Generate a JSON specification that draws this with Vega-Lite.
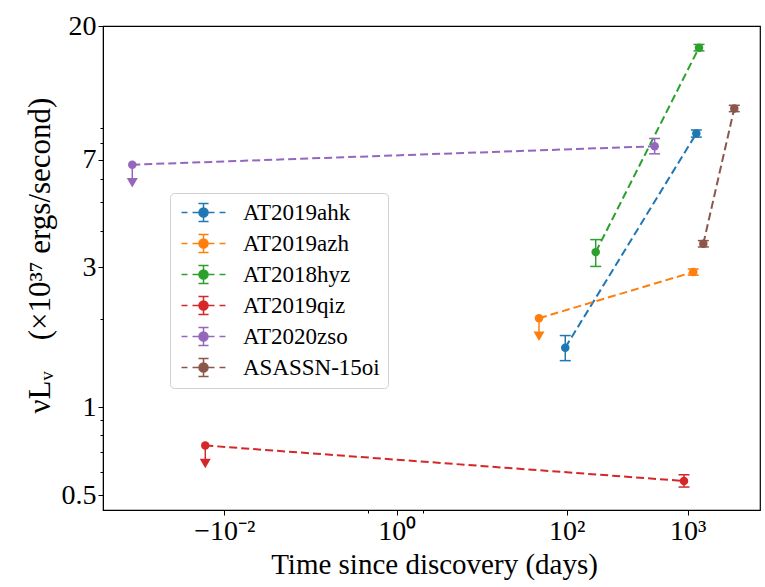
{
  "$schema": "https://vega.github.io/schema/vega-lite/v6.json",
  "width": 657,
  "height": 484,
  "autosize": {"type": "none"},
  "padding": {"left": 103, "top": 26, "right": 5, "bottom": 77},
  "background": "white",
  "config": {
    "view": {"stroke": "black", "strokeWidth": 1.2},
    "font": "Liberation Serif",
    "axis": {
      "grid": false,
      "domainColor": "black",
      "tickColor": "black",
      "labelColor": "black",
      "titleColor": "black",
      "labelFont": "Liberation Serif",
      "titleFont": "Liberation Serif",
      "labelFontSize": 28,
      "titleFontSize": 29,
      "titleFontWeight": "normal",
      "labelPadding": 2,
      "labelOverlap": false,
      "labelBound": false,
      "labelFlush": false
    }
  },
  "data": {
    "values": [
      {"name": "AT2019ahk", "t": 96.7, "L": 1.595, "lo": 1.44, "hi": 1.754, "lim": false},
      {"name": "AT2019ahk", "t": 1178, "L": 8.59, "lo": 8.35, "hi": 8.83, "lim": false},
      {"name": "AT2019azh", "t": 52.3, "L": 2.01, "lo": null, "hi": null, "lim": true},
      {"name": "AT2019azh", "t": 1111, "L": 2.89, "lo": 2.82, "hi": 2.96, "lim": false},
      {"name": "AT2018hyz", "t": 174, "L": 3.38, "lo": 3.02, "hi": 3.73, "lim": false},
      {"name": "AT2018hyz", "t": 1239, "L": 16.87, "lo": 16.45, "hi": 17.3, "lim": false},
      {"name": "AT2019qiz", "t": -0.0915, "L": 0.739, "lo": null, "hi": null, "lim": true},
      {"name": "AT2019qiz", "t": 932, "L": 0.559, "lo": 0.533, "hi": 0.587, "lim": false},
      {"name": "AT2020zso", "t": -0.47, "L": 6.72, "lo": null, "hi": null, "lim": true},
      {"name": "AT2020zso", "t": 534, "L": 7.77, "lo": 7.32, "hi": 8.26, "lim": false},
      {"name": "ASASSN-15oi", "t": 1345, "L": 3.61, "lo": 3.52, "hi": 3.7, "lim": false},
      {"name": "ASASSN-15oi", "t": 2419, "L": 10.46, "lo": 10.2, "hi": 10.72, "lim": false}
    ]
  },
  "encoding": {
    "x": {
      "field": "t",
      "type": "quantitative",
      "scale": {"type": "symlog", "constant": 1, "domain": [-0.01, 1, 100, 1000], "range": [121.3, 293.7, 463.7, 584.7], "nice": false, "zero": false},
      "axis": {
        "title": "Time since discovery (days)",
        "titleX": 331,
        "values": [-0.01, 0.782, 1, 2.64, 100, 1000],
        "labelExpr": "datum.value == 1000 ? '10³' : datum.value == 100 ? '10²' : datum.value == 1 ? '10⁰' : datum.value == -0.01 ? '−10⁻²' : ''",
        "tickSize": {"condition": {"test": "datum.value == 0.782 || datum.value == 2.64", "value": 3}, "value": 5},
        "titlePadding": 5
      }
    }
  },
  "layer": [
    {
      "mark": {"type": "line", "strokeDash": [8, 4], "strokeWidth": 2},
      "encoding": {
        "y": {
          "field": "L",
          "type": "quantitative",
          "scale": {"type": "log", "domain": [0.445, 20], "nice": false, "zero": false},
          "axis": {
            "title": "νLᵥ\u2003(×10³⁷ ergs/second)",
            "titleFontSize": 31,
            "titleY": 229,
            "values": [0.5, 0.6, 0.7, 0.8, 0.9, 1, 2, 3, 4, 5, 6, 7, 8, 9, 20],
            "format": "~g",
            "labelExpr": "indexof([0.5, 1, 3, 7, 20], datum.value) >= 0 ? datum.label : ''",
            "tickSize": {"condition": {"test": "indexof([0.5, 1, 3, 7, 20], datum.value) < 0", "value": 3}, "value": 5},
            "titlePadding": 5
          }
        },
        "stroke": {
          "field": "name", "type": "nominal", "title": null,
          "scale": {"domain": ["AT2019ahk", "AT2019azh", "AT2018hyz", "AT2019qiz", "AT2020zso", "ASASSN-15oi"], "range": ["#1f77b4", "#ff7f0e", "#2ca02c", "#d62728", "#9467bd", "#8c564b"]},
          "legend": {"orient": "none", "legendX": 67, "legendY": 167, "symbolType": "M-2.44,0H-1.78M-1.22,0H-0.56M0.56,0H1.22M1.78,0H2.44M0,-1V1M-0.56,-1H0.56M-0.56,1H0.56M-0.5,0A0.5,0.5 0 1,0 0.5,0A0.5,0.5 0 1,0 -0.5,0Z", "symbolSize": 324, "symbolStrokeWidth": 1.5, "symbolOpacity": 1, "symbolOffset": 14, "labelOffset": 28, "labelFont": "Liberation Serif", "labelFontSize": 23, "labelColor": "black", "rowPadding": 6, "padding": 8, "strokeColor": "#d0d0d0", "fillColor": "rgba(255,255,255,0.85)", "cornerRadius": 4}
        }
      }
    },
    {
      "transform": [{"filter": "!datum.lim"}],
      "mark": {"type": "rule", "strokeWidth": 1.5, "opacity": 1},
      "encoding": {
        "y": {"field": "lo", "type": "quantitative"},
        "y2": {"field": "hi"},
        "stroke": {
          "field": "name", "type": "nominal", "title": null,
          "scale": {"domain": ["AT2019ahk", "AT2019azh", "AT2018hyz", "AT2019qiz", "AT2020zso", "ASASSN-15oi"], "range": ["#1f77b4", "#ff7f0e", "#2ca02c", "#d62728", "#9467bd", "#8c564b"]},
          "legend": {"orient": "none", "legendX": 67, "legendY": 167, "symbolType": "M-2.44,0H-1.78M-1.22,0H-0.56M0.56,0H1.22M1.78,0H2.44M0,-1V1M-0.56,-1H0.56M-0.56,1H0.56M-0.5,0A0.5,0.5 0 1,0 0.5,0A0.5,0.5 0 1,0 -0.5,0Z", "symbolSize": 324, "symbolStrokeWidth": 1.5, "symbolOpacity": 1, "symbolOffset": 14, "labelOffset": 28, "labelFont": "Liberation Serif", "labelFontSize": 23, "labelColor": "black", "rowPadding": 6, "padding": 8, "strokeColor": "#d0d0d0", "fillColor": "rgba(255,255,255,0.85)", "cornerRadius": 4}
        }
      }
    },
    {
      "transform": [{"filter": "!datum.lim"}],
      "mark": {"type": "tick", "orient": "horizontal", "size": 11, "thickness": 1.5, "opacity": 1},
      "encoding": {
        "y": {"field": "lo", "type": "quantitative"},
        "fill": {
          "field": "name", "type": "nominal", "title": null,
          "scale": {"domain": ["AT2019ahk", "AT2019azh", "AT2018hyz", "AT2019qiz", "AT2020zso", "ASASSN-15oi"], "range": ["#1f77b4", "#ff7f0e", "#2ca02c", "#d62728", "#9467bd", "#8c564b"]},
          "legend": {"orient": "none", "legendX": 67, "legendY": 167, "symbolType": "M-2.44,0H-1.78M-1.22,0H-0.56M0.56,0H1.22M1.78,0H2.44M0,-1V1M-0.56,-1H0.56M-0.56,1H0.56M-0.5,0A0.5,0.5 0 1,0 0.5,0A0.5,0.5 0 1,0 -0.5,0Z", "symbolSize": 324, "symbolStrokeWidth": 1.5, "symbolOpacity": 1, "symbolOffset": 14, "labelOffset": 28, "labelFont": "Liberation Serif", "labelFontSize": 23, "labelColor": "black", "rowPadding": 6, "padding": 8, "strokeColor": "#d0d0d0", "fillColor": "rgba(255,255,255,0.85)", "cornerRadius": 4}
        }
      }
    },
    {
      "transform": [{"filter": "!datum.lim"}],
      "mark": {"type": "tick", "orient": "horizontal", "size": 11, "thickness": 1.5, "opacity": 1},
      "encoding": {
        "y": {"field": "hi", "type": "quantitative"},
        "fill": {"field": "name", "type": "nominal", "title": null}
      }
    },
    {
      "transform": [{"filter": "datum.lim"}],
      "mark": {"type": "rule", "strokeWidth": 1.5, "y2Offset": 15, "opacity": 1},
      "encoding": {
        "y": {"field": "L", "type": "quantitative"},
        "y2": {"field": "L"},
        "stroke": {"field": "name", "type": "nominal", "title": null}
      }
    },
    {
      "transform": [{"filter": "datum.lim"}],
      "mark": {"type": "point", "shape": "triangle-down", "filled": true, "size": 121, "opacity": 1, "yOffset": 18},
      "encoding": {
        "y": {"field": "L", "type": "quantitative"},
        "fill": {"field": "name", "type": "nominal", "title": null}
      }
    },
    {
      "mark": {"type": "point", "shape": "circle", "filled": true, "size": 72, "opacity": 1},
      "encoding": {
        "y": {"field": "L", "type": "quantitative"},
        "fill": {"field": "name", "type": "nominal", "title": null}
      }
    }
  ]
}
